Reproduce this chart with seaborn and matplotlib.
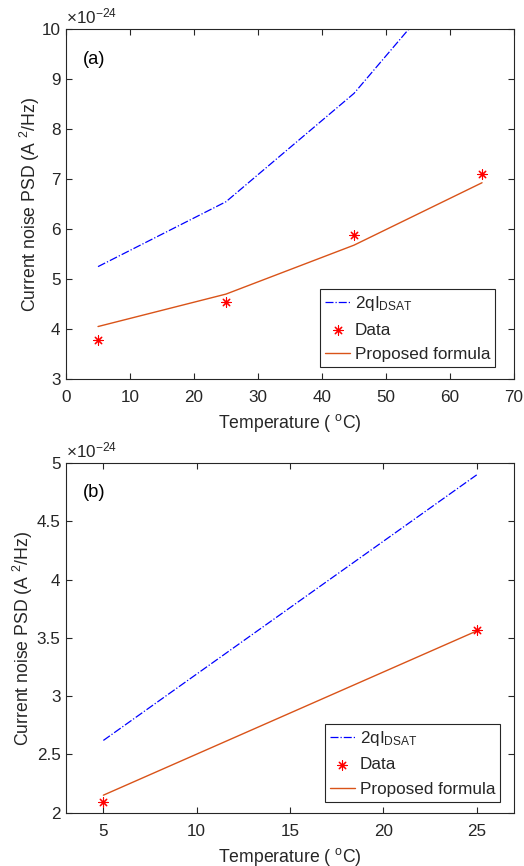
import numpy as np
import pandas as pd
import seaborn as sns
import matplotlib
matplotlib.use("Agg")
import matplotlib.pyplot as plt

# Panel (a): 4 temperatures
temp_a = [5, 25, 45, 65]
shot_a = [5.25, 6.55, 8.72, 11.73]      # 2qI_DSAT, x1e-24 A^2/Hz
formula_a = [4.05, 4.70, 5.68, 6.93]    # proposed formula
data_a = [3.78, 4.55, 5.89, 7.11]       # measured

# Panel (b): 2 temperatures
temp_b = [5, 25]
shot_b = [2.62, 4.90]
formula_b = [2.15, 3.56]
data_b = [2.09, 3.57]

xticks_a = [0, 10, 20, 30, 40, 50, 60, 70]
yticks_a = [3, 4, 5, 6, 7, 8, 9, 10]
xticks_b = [5, 10, 15, 20, 25]
yticks_b = [2, 2.5, 3, 3.5, 4, 4.5, 5]

sns.set_style("ticks")
plt.rcParams["font.family"] = ["Liberation Sans", "DejaVu Sans"]
plt.rcParams["mathtext.fontset"] = "custom"
plt.rcParams["mathtext.rm"] = "Liberation Sans"
plt.rcParams["mathtext.it"] = "Liberation Sans:italic"

AX = "#262626"
ORANGE = "#D95319"
FS = 12.3
FS_LABEL = 12.7

fig = plt.figure(figsize=(5.24, 8.66), dpi=100)
ax_a = fig.add_axes([0.126, 0.5624, 0.855, 0.4036])
ax_b = fig.add_axes([0.126, 0.0616, 0.855, 0.4035])

star = (8, 2, 0)


def draw(ax, t, shot, formula, data, xlim, ylim, xticks, yticks, tag,
         leg_anchor, ylabelpad):
    df = pd.DataFrame({"T": t, "shot": shot, "formula": formula, "data": data})
    sns.lineplot(data=df, x="T", y="shot", ax=ax, color="#0000ff", lw=0.9,
                 linestyle="-.", label="2qI$_{\\mathrm{DSAT}}$")
    sns.scatterplot(data=df, x="T", y="data", ax=ax, marker=star, s=45,
                    color="#ff0000", linewidth=0.8, edgecolor="#ff0000",
                    label="Data", zorder=4, clip_on=False)
    sns.lineplot(data=df, x="T", y="formula", ax=ax, color=ORANGE, lw=1.0,
                 label="Proposed formula")
    ax.set_xlim(*xlim)
    ax.set_ylim(*ylim)
    ax.set_xticks(xticks)
    ax.set_yticks(yticks)
    ax.set_xticklabels([f"{v:g}" for v in xticks])
    ax.set_yticklabels([f"{v:g}" for v in yticks])
    ax.tick_params(direction="in", length=4, width=0.8, colors=AX,
                   labelsize=FS, top=True, right=True)
    ax.tick_params(axis="x", pad=8)
    ax.tick_params(axis="y", pad=4)
    for s in ax.spines.values():
        s.set_visible(True)
        s.set_color(AX)
        s.set_linewidth(0.8)
    ax.set_xlabel("Temperature ( $^{\\mathrm{o}}$C)", fontsize=FS_LABEL, color=AX, labelpad=5)
    ax.set_ylabel("Current noise PSD (A $^{2}$/Hz)", fontsize=FS_LABEL, color=AX,
                  labelpad=ylabelpad)
    ax.text(0.0, 1.008, "$\\times$10$^{\\mathrm{-24}}$", transform=ax.transAxes,
            fontsize=FS, color=AX, ha="left", va="bottom")
    ax.text(0.037, 0.915, tag, transform=ax.transAxes, fontsize=FS_LABEL + 0.5,
            color="black", ha="left", va="center")
    leg = ax.legend(loc="lower right", bbox_to_anchor=leg_anchor, fontsize=FS,
                    frameon=True, fancybox=False, handlelength=1.5,
                    handletextpad=0.25, borderpad=0.3, labelspacing=0.55,
                    borderaxespad=0.0)
    leg.get_frame().set_edgecolor(AX)
    leg.get_frame().set_linewidth(0.8)
    leg.get_frame().set_alpha(1.0)


draw(ax_a, temp_a, shot_a, formula_a, data_a, (0, 70), (3, 10),
     xticks_a, yticks_a, "(a)", (0.958, 0.034), -0.5)
draw(ax_b, temp_b, shot_b, formula_b, data_b, (3, 27), (2, 5),
     xticks_b, yticks_b, "(b)", (0.969, 0.031), 1)

fig.savefig("out.png", dpi=100)
